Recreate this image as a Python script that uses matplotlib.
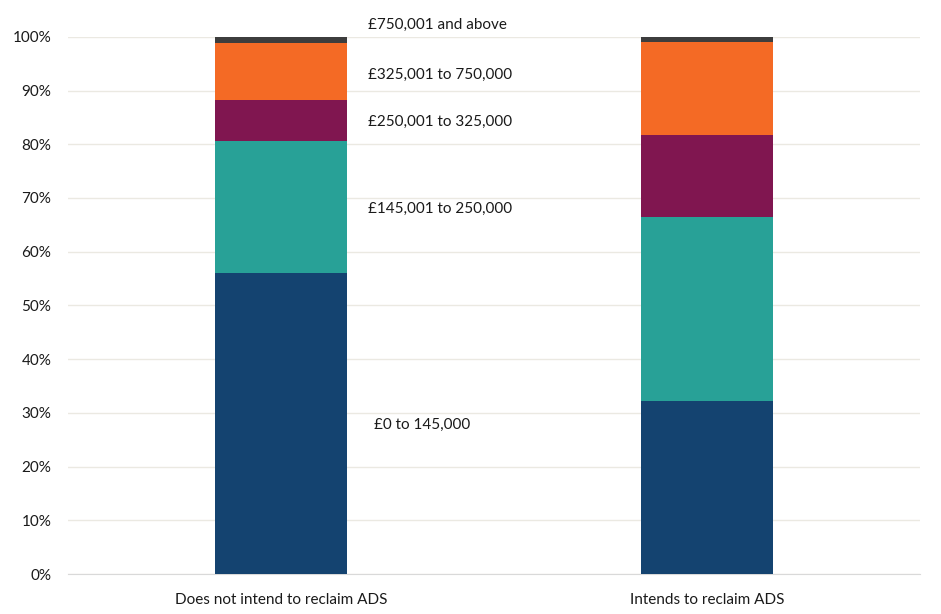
import matplotlib.pyplot as plt
import numpy as np

plt.rcParams['font.family'] = ['Lato', 'DejaVu Sans']

# Datos del gráfico (porcentajes acumulables por banda)
categories = ['Does not intend to reclaim ADS', 'Intends to reclaim ADS']
bands = ['£0 to 145,000', '£145,001 to 250,000', '£250,001 to 325,000',
         '£325,001 to 750,000', '£750,001 and above']
band_0_145 = [56.0, 32.3]
band_145_250 = [24.6, 34.2]
band_250_325 = [7.6, 15.3]
band_325_750 = [10.6, 17.2]
band_750_plus = [1.2, 1.0]
label_y = [27.7, 67.9, 84.1, 92.9, 102.2]

series = [band_0_145, band_145_250, band_250_325, band_325_750, band_750_plus]
colors = ['#144370', '#28a197', '#801650', '#f46a25', '#3d3d3d']

fig = plt.figure(figsize=(9.41, 6.14), dpi=100)
ax = fig.add_axes([0.0723, 0.0651, 0.9057, 0.8749])

x = np.arange(len(categories))
bottom = np.zeros(len(categories))
for vals, col in zip(series, colors):
    ax.bar(x, vals, width=0.31, bottom=bottom, color=col, zorder=3)
    bottom += np.array(vals)

# Etiquetas de las bandas junto a la primera barra
for name, yv in zip(bands, label_y):
    ax.text(0.205 if name != bands[0] else 0.218, yv, name, fontsize=11,
            va='center', ha='left', clip_on=False, color='#1a1a1a')

ax.set_xlim(-0.5, 1.5)
ax.set_ylim(0, 100)
ax.set_yticks(np.arange(0, 101, 10))
ax.set_yticklabels([f'{v}%' for v in range(0, 101, 10)])
ax.set_xticks(x)
ax.set_xticklabels(categories)
ax.tick_params(axis='both', length=0, labelsize=11, colors='#1a1a1a')
ax.tick_params(axis='y', pad=12)
ax.tick_params(axis='x', pad=14)
ax.grid(axis='y', color='#ebe9e2', linewidth=1, zorder=0)
for s in ['top', 'right', 'left']:
    ax.spines[s].set_visible(False)
ax.spines['bottom'].set_color('#d9d9d9')

plt.savefig('out.png', dpi=100)
